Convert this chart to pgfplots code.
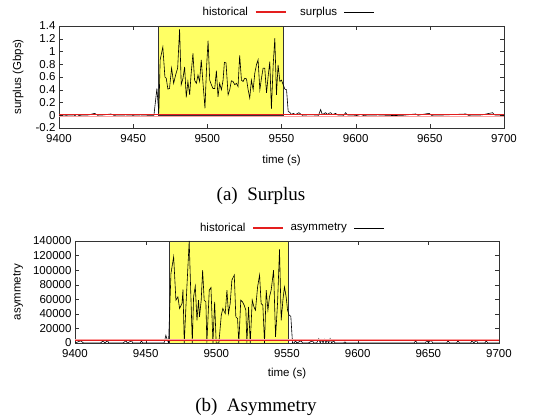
\documentclass[border=0pt]{standalone}
\usepackage{pgfplots}
\pgfplotsset{compat=1.18}
\usepackage{fontspec}
\setmainfont{Liberation Sans}
\newfontfamily\capfont{Liberation Serif}
\definecolor{gpyellow}{RGB}{255,255,100}
\definecolor{gpred}{RGB}{228,30,30}
\definecolor{gppink}{RGB}{250,160,160}

\pgfplotstableread{
t v
9400 0.005
9405 0.0
9410 0.005
9412 -0.02
9414 0.0
9420 0.005
9424 0.03
9426 0.0
9430 0.005
9435 0.02
9437 0.0
9445 0.005
9450 0.0
9455 0.005
9460 0.0
9464 0.0
9466 0.42
9467.3 0.03
9468.2 0.87
9470 1.07
9471.4 0.6
9472.3 0.58
9473.4 0.41
9474.5 0.42
9475.9 0.74
9477.3 0.5
9478.6 0.63
9480 0.74
9481.3 1.35
9482.4 0.48
9483.6 0.58
9484.7 0.76
9485.8 0.28
9486.9 0.53
9488.1 0.32
9489 0.63
9490.3 0.97
9491.4 0.55
9492.6 0.5
9493.7 0.63
9494.8 0.53
9495.9 0.87
9497.1 0.5
9498.4 0.11
9499.5 0.76
9500.5 1.17
9501.6 0.55
9502.7 0.48
9503.8 0.42
9505 0.42
9506.1 0.70
9507.2 0.29
9508.3 0.5
9509.5 0.4
9510.6 0.55
9511.5 0.83
9512.6 0.82
9514 0.32
9515.1 0.4
9516.2 0.54
9517.3 0.53
9518.5 0.48
9519.6 0.5
9520.7 0.45
9521.8 0.94
9523 0.55
9524.1 0.53
9525.2 0.58
9526.4 0.57
9527.5 0.4
9528.6 0.27
9529.7 0.55
9530.9 0.4
9532 0.66
9533.1 0.79
9534.2 0.87
9535.4 0.4
9536.5 0.58
9537.6 0.74
9538.7 0.74
9539.9 0.35
9541 0.61
9542.1 0.84
9543.2 0.10
9544.4 0.79
9545.5 1.21
9546.6 0.32
9547.7 0.79
9548.9 0.53
9550 0.55
9551.1 0.48
9552.3 0.41
9553.4 0.4
9554.5 0.06
9555.6 0.045
9556.8 0.01
9557.9 0.03
9559.5 0.01
9561.7 0.04
9564 0.0
9567.3 0.005
9571.8 0.005
9575 0.0
9576.4 0.09
9577.5 0.01
9579.7 0.04
9581 0.01
9582 0.03
9583.1 0.04
9584.5 0.01
9586.5 0.03
9587.6 0.005
9592 0.0
9593.2 0.04
9594.4 0.005
9600 0.0
9603.4 -0.02
9606 0.0
9615 0.005
9625.9 -0.005
9632 0.0
9640.5 0.02
9642 0.0
9649.5 0.03
9651 0.0
9660 0.005
9674.3 0.02
9676 0.0
9685 0.005
9692.3 0.04
9693.5 0.005
9700 0.0
}\surplus

\pgfplotstableread{
t v
9400 0
9404 3000
9406 0
9418 0
9420 3000
9421 0
9423 3000
9424 0
9434 0
9436 3000
9437 0
9440 3000
9441 0
9446 0
9447 2500
9448 0
9463 0
9464.3 10500
9465 6000
9466.2 0
9467.9 95500
9469.8 118400
9471.4 58800
9472.8 63300
9474 47300
9475.7 54200
9476.4 73400
9477.3 0
9478.7 58800
9480.8 140000
9483 0
9483.9 63300
9485.1 78000
9486.3 31200
9487.4 58800
9488.1 35800
9489.3 58800
9490.3 100000
9491.4 58800
9492.6 56500
9493.3 0
9495 72500
9496.2 76200
9497.6 0
9498.8 56500
9499.9 0
9501.8 0
9503.5 38100
9504.6 47300
9506.3 40400
9507.5 72500
9508.6 40400
9509.8 54200
9511 86300
9512.7 93200
9513.8 35800
9515 33500
9515.9 0
9517.3 58800
9518.5 56500
9519.7 51900
9520.9 45000
9521.6 0
9522.8 49600
9524 0
9525.4 58800
9526.6 49600
9527.7 45000
9529.2 77100
9530.6 93200
9531.7 54200
9532.9 51900
9534.1 0
9535.3 72500
9536.5 45000
9537.6 63300
9538.8 72500
9540.5 100000
9541.9 8300
9543.3 54200
9544.7 128500
9545.9 31200
9547.1 58800
9548.2 77100
9549.4 63300
9550.4 45000
9551.5 38100
9552.7 36700
9553.9 0
9555 0
9556 3000
9557 0
9560 3000
9561 0
9565 0
9568 3000
9569 0
9571 0
9572.5 6000
9573.5 0
9574.5 4500
9575.5 0
9576.5 5000
9577.5 0
9578.5 4000
9579.5 0
9580.5 6000
9581.5 0
9583 3000
9584 0
9590 0
9591 1500
9592 0
9640 0
9641 3000
9642 0
9648 0
9649 4000
9650 0
9652 4000
9653 0
9663 0
9664 3000
9665 0
9670 0
9671 3000
9672 0
9680 0
9681 3500
9682 0
9684 3500
9685 0
9690 0
9691 3000
9692 0
9700 0
}\asym

\begin{document}
\begin{tikzpicture}
\pgfplotsset{
  every axis/.append style={
    scale only axis,
    font=\fontsize{11.5bp}{13bp}\selectfont,
    /pgf/number format/assume math mode=true,
    tick align=inside,
    xmin=9400, xmax=9700,
    xtick={9400,9450,9500,9550,9600,9650,9700},
    x tick label style={/pgf/number format/1000 sep={}, yshift=-2.5bp},
    axis line style={black!80},
    tick style={black!80},
    major tick length=4bp,
    legend plot pos=right,
    legend style={draw=none, fill=none, legend columns=2,
      font=\fontsize{11.5bp}{13bp}\selectfont},
    legend image code/.code={\draw[#1] (0bp,0bp) -- (30bp,0bp);},
  }
}

% (a) Surplus
\begin{axis}[
  at={(59bp,290bp)}, anchor=south west,
  width=445bp, height=102bp,
  ymin=-0.2, ymax=1.4,
  ytick={-0.2,0,0.2,0.4,0.6,0.8,1,1.2,1.4},
  xlabel={time (s)}, ylabel={surplus (Gbps)},
  xlabel style={at={(axis description cs:0.5,-0.315)}, anchor=center},
  ylabel style={at={(axis description cs:-0.092,0.5)}, anchor=center},
  legend style={at={(axis description cs:0.514,1)}, anchor=center, yshift=14bp},
]
\addplot[fill=gpyellow, draw=black!80, forget plot] coordinates {(9467,0) (9467,1.4) (9551,1.4) (9551,0) (9467,0)};
\addplot[gpred, line width=1.1bp] coordinates {(9400,0.006) (9700,0.006)};
\addlegendentry{historical\rule{5bp}{0bp}}
\addplot[black, line width=0.6bp] table[x=t,y=v] {\surplus};
\addlegendentry{\rule{12bp}{0bp}surplus\rule{5bp}{0bp}}
\addplot[gppink, line width=1bp, forget plot] coordinates {(9400,-0.022) (9700,-0.022)};
\addplot[gpred, line width=1bp, forget plot] coordinates {(9400,0.006) (9700,0.006)};
\end{axis}

% (b) Asymmetry
\begin{axis}[
  at={(75bp,75bp)}, anchor=south west,
  width=424bp, height=102bp,
  ymin=0, ymax=140000,
  ytick={0,20000,40000,60000,80000,100000,120000,140000},
  scaled y ticks=false,
  y tick label style={/pgf/number format/fixed, /pgf/number format/1000 sep={}},
  xlabel={time (s)}, ylabel={asymmetry},
  xlabel style={at={(axis description cs:0.5,-0.30)}, anchor=center},
  ylabel style={at={(axis description cs:-0.134,0.5)}, anchor=center},
  legend style={at={(axis description cs:0.51,1)}, anchor=center, yshift=13bp},
]
\addplot[fill=gpyellow, draw=black!80, forget plot] coordinates {(9467,0) (9467,140000) (9551,140000) (9551,0) (9467,0)};
\addplot[gpred, line width=1.1bp] coordinates {(9400,3000) (9700,3000)};
\addlegendentry{historical\rule{5bp}{0bp}}
\addplot[black, line width=0.6bp] table[x=t,y=v] {\asym};
\addlegendentry{\rule{5bp}{0bp}asymmetry\rule{5bp}{0bp}}
\addplot[gppink, line width=1bp, forget plot] coordinates {(9400,5200) (9700,5200)};
\addplot[gpred, line width=1.1bp, forget plot] coordinates {(9400,3000) (9700,3000)};
\end{axis}

\node[font=\capfont\fontsize{19bp}{22bp}\selectfont] at (261bp,222bp) {(a)~ Surplus};
\node[font=\capfont\fontsize{19bp}{22bp}\selectfont] at (256bp,11bp) {(b)~ Asymmetry};
\useasboundingbox (0,0) rectangle (559bp,418bp);
\end{tikzpicture}
\end{document}
